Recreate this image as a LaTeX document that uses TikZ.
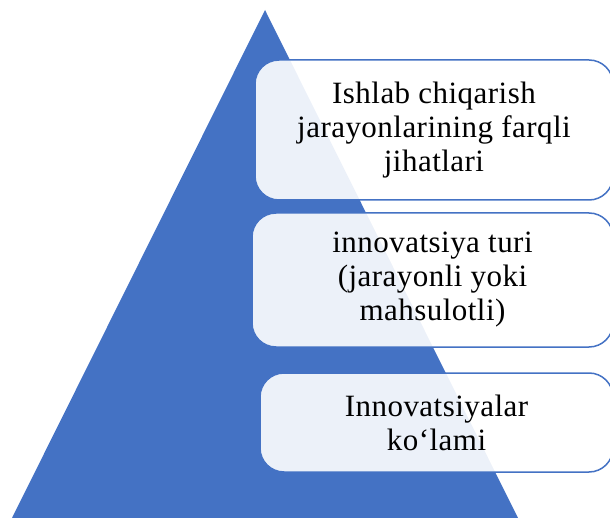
\documentclass[tikz,border=0pt]{standalone}
\usepackage{fontspec}
\setmainfont{Liberation Serif}
\definecolor{pyrblue}{HTML}{4472C4}
\tikzset{
  levelbox/.style={draw=pyrblue, line width=1.5pt, rounded corners=24pt,
    fill=white, fill opacity=0.9, text opacity=1, align=center,
    inner sep=0pt, font=\fontsize{31}{34}\selectfont\addfontfeatures{LetterSpace=1.5}},
}

\begin{document}
\begin{tikzpicture}[x=1pt,y=-1pt]
        \useasboundingbox (0,0) rectangle (610,518);
        % pyramid
        \fill[pyrblue] (265,10) -- (12,518) -- (518,518) -- cycle;
        % levels
        \node[levelbox, minimum width=358pt, minimum height=140pt] (top) at (434,130)
            {Ishlab chiqarish\\jarayonlarining farqli\\jihatlari};
        \node[levelbox, minimum width=361pt, minimum height=134pt] (mid) at (432.5,280)
            {innovatsiya turi\\(jarayonli yoki\\mahsulotli)};
        \node[levelbox, minimum width=353pt, minimum height=99pt] (low) at (436.5,422.5)
            {Innovatsiyalar\\ko‘lami};
    \end{tikzpicture}
\end{document}
